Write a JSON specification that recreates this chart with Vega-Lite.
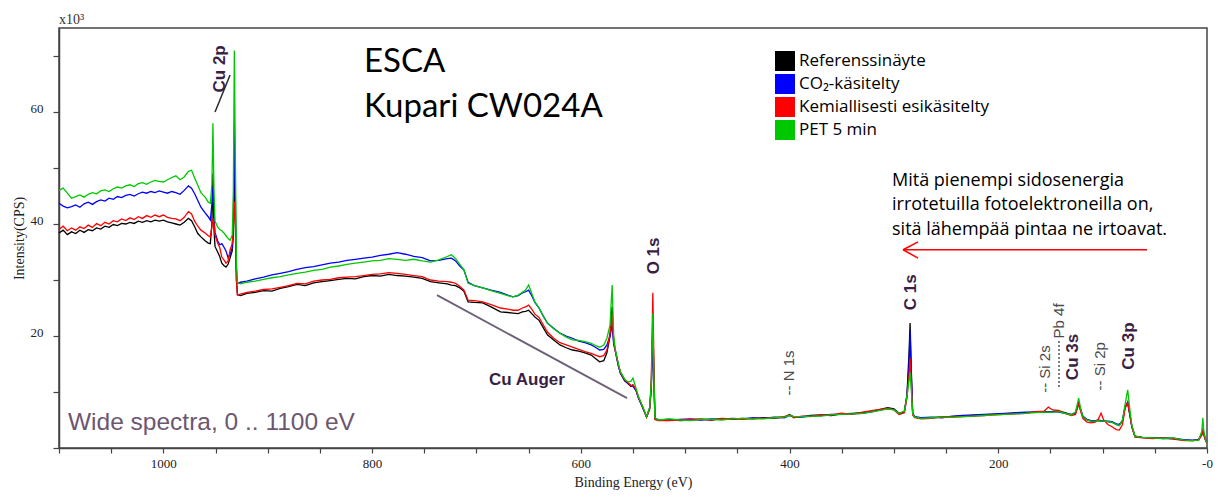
{
  "$schema": "https://vega.github.io/schema/vega-lite/v6.json",
  "width": 1148,
  "height": 420,
  "autosize": {"type": "none"},
  "padding": {"left": 59, "top": 28, "right": 10, "bottom": 49},
  "background": "white",
  "config": {
    "view": {"stroke": "#444", "strokeWidth": 1.5},
    "axis": {"domainColor": "#444", "domainWidth": 1.5, "tickColor": "#444", "tickWidth": 1.2, "labelFont": "Liberation Serif", "labelFontSize": 13, "labelColor": "#222", "titleFont": "Liberation Serif", "titleFontSize": 14, "titleFontWeight": "normal", "titleColor": "#222", "grid": false}
  },
  "layer": [
    {
      "data": {"values": [
        {"E":1100,"k":38.4,"b":43.7,"r":39.0,"g":46.0},
        {"E":1096,"k":38.9,"b":43.2,"r":39.6,"g":46.4},
        {"E":1092,"k":38.1,"b":42.9,"r":38.8,"g":45.5},
        {"E":1088,"k":38.6,"b":43.1,"r":39.3,"g":44.6},
        {"E":1084,"k":38.3,"b":43.4,"r":38.9,"g":44.9},
        {"E":1080,"k":38.9,"b":43.0,"r":39.5,"g":45.2},
        {"E":1076,"k":38.5,"b":43.6,"r":39.2,"g":44.8},
        {"E":1072,"k":39.0,"b":43.9,"r":39.8,"g":45.3},
        {"E":1068,"k":38.8,"b":43.5,"r":39.4,"g":45.6},
        {"E":1064,"k":39.3,"b":44.0,"r":40.1,"g":45.4},
        {"E":1060,"k":39.1,"b":44.3,"r":39.7,"g":45.9},
        {"E":1056,"k":39.6,"b":44.1,"r":40.3,"g":46.1},
        {"E":1052,"k":39.4,"b":44.6,"r":40.0,"g":45.8},
        {"E":1048,"k":39.9,"b":44.4,"r":40.6,"g":46.3},
        {"E":1044,"k":39.7,"b":44.9,"r":40.4,"g":46.6},
        {"E":1040,"k":40.1,"b":44.7,"r":40.9,"g":46.4},
        {"E":1036,"k":40.0,"b":45.1,"r":40.6,"g":46.8},
        {"E":1032,"k":40.3,"b":45.3,"r":41.1,"g":47.0},
        {"E":1028,"k":40.1,"b":45.0,"r":40.8,"g":46.7},
        {"E":1024,"k":40.5,"b":45.4,"r":41.3,"g":47.2},
        {"E":1020,"k":40.3,"b":45.7,"r":41.0,"g":47.4},
        {"E":1016,"k":40.6,"b":45.5,"r":41.5,"g":47.1},
        {"E":1012,"k":40.4,"b":45.8,"r":41.2,"g":47.5},
        {"E":1008,"k":40.7,"b":45.6,"r":41.6,"g":47.8},
        {"E":1004,"k":40.5,"b":45.9,"r":41.3,"g":47.6},
        {"E":1000,"k":40.7,"b":45.7,"r":41.6,"g":47.5},
        {"E":996,"k":40.4,"b":45.5,"r":41.2,"g":47.9},
        {"E":992,"k":40.2,"b":45.8,"r":41.0,"g":48.3},
        {"E":988,"k":40.0,"b":45.6,"r":40.9,"g":48.6},
        {"E":984,"k":39.8,"b":45.3,"r":40.6,"g":47.9},
        {"E":980,"k":40.3,"b":46.0,"r":41.2,"g":48.4},
        {"E":976,"k":41.0,"b":46.8,"r":42.2,"g":49.4},
        {"E":973,"k":40.6,"b":46.4,"r":41.8,"g":49.6},
        {"E":970,"k":39.5,"b":45.4,"r":40.5,"g":48.2},
        {"E":967,"k":38.3,"b":44.2,"r":39.6,"g":46.9},
        {"E":964,"k":37.7,"b":43.0,"r":38.9,"g":45.6},
        {"E":960,"k":37.0,"b":42.0,"r":38.4,"g":44.8},
        {"E":957,"k":36.6,"b":41.3,"r":37.9,"g":43.9},
        {"E":955,"k":36.5,"b":40.7,"r":37.7,"g":43.7},
        {"E":953.5,"k":40.0,"b":43.5,"r":39.5,"g":47.0},
        {"E":952.5,"k":49.0,"b":46.6,"r":41.0,"g":58.0},
        {"E":951.5,"k":39.0,"b":41.0,"r":40.2,"g":46.0},
        {"E":950.5,"k":36.0,"b":38.5,"r":38.0,"g":40.5},
        {"E":948,"k":35.0,"b":37.0,"r":36.6,"g":39.5},
        {"E":946,"k":34.2,"b":36.3,"r":35.8,"g":39.0},
        {"E":944,"k":33.0,"b":36.5,"r":34.1,"g":38.8},
        {"E":942,"k":32.6,"b":35.9,"r":33.6,"g":38.4},
        {"E":940,"k":32.3,"b":35.2,"r":33.0,"g":37.9},
        {"E":938,"k":32.8,"b":34.0,"r":33.4,"g":37.4},
        {"E":936,"k":34.0,"b":34.6,"r":35.4,"g":37.1},
        {"E":934,"k":35.2,"b":35.7,"r":36.5,"g":38.0},
        {"E":933,"k":38.0,"b":40.0,"r":39.0,"g":45.0},
        {"E":932,"k":50.0,"b":58.0,"r":44.0,"g":71.0},
        {"E":931,"k":40.0,"b":45.0,"r":40.0,"g":52.0},
        {"E":930,"k":30.0,"b":32.0,"r":30.0,"g":33.0},
        {"E":929,"k":27.4,"b":29.4,"r":27.3,"g":29.5},
        {"E":926,"k":27.2,"b":29.6,"r":27.5,"g":29.3},
        {"E":920,"k":27.6,"b":29.8,"r":27.8,"g":29.6},
        {"E":912,"k":27.8,"b":30.2,"r":28.0,"g":29.8},
        {"E":904,"k":28.1,"b":30.5,"r":28.3,"g":30.1},
        {"E":896,"k":28.0,"b":30.9,"r":28.4,"g":30.4},
        {"E":888,"k":28.5,"b":31.2,"r":28.7,"g":30.6},
        {"E":880,"k":28.8,"b":31.5,"r":29.0,"g":30.9},
        {"E":872,"k":29.2,"b":31.9,"r":29.4,"g":31.2},
        {"E":864,"k":29.0,"b":32.2,"r":29.3,"g":31.4},
        {"E":856,"k":29.5,"b":32.4,"r":29.8,"g":31.7},
        {"E":848,"k":29.7,"b":32.7,"r":30.0,"g":31.9},
        {"E":840,"k":29.9,"b":33.0,"r":30.1,"g":32.3},
        {"E":832,"k":30.1,"b":33.2,"r":30.4,"g":32.5},
        {"E":824,"k":30.3,"b":33.5,"r":30.5,"g":32.8},
        {"E":816,"k":30.2,"b":33.7,"r":30.6,"g":33.0},
        {"E":808,"k":30.6,"b":33.9,"r":30.8,"g":33.2},
        {"E":800,"k":30.8,"b":34.1,"r":31.0,"g":33.4},
        {"E":792,"k":30.7,"b":34.4,"r":31.1,"g":33.5},
        {"E":784,"k":31.0,"b":34.6,"r":31.3,"g":33.8},
        {"E":776,"k":30.8,"b":34.9,"r":31.2,"g":33.7},
        {"E":768,"k":30.7,"b":34.6,"r":31.0,"g":33.5},
        {"E":760,"k":30.5,"b":34.2,"r":30.8,"g":33.7},
        {"E":752,"k":30.3,"b":34.0,"r":30.6,"g":33.4},
        {"E":744,"k":29.7,"b":33.4,"r":30.0,"g":33.2},
        {"E":736,"k":29.5,"b":33.5,"r":29.8,"g":33.6},
        {"E":728,"k":29.3,"b":33.8,"r":29.7,"g":34.2},
        {"E":724,"k":29.1,"b":33.9,"r":29.6,"g":34.5},
        {"E":720,"k":29.0,"b":33.4,"r":29.4,"g":33.8},
        {"E":716,"k":28.6,"b":32.5,"r":28.9,"g":32.8},
        {"E":712,"k":28.0,"b":31.8,"r":28.2,"g":31.8},
        {"E":708,"k":26.1,"b":29.6,"r":26.4,"g":29.4},
        {"E":702,"k":26.0,"b":29.0,"r":26.3,"g":29.0},
        {"E":694,"k":25.9,"b":28.6,"r":26.1,"g":28.6},
        {"E":686,"k":25.2,"b":28.2,"r":25.6,"g":28.1},
        {"E":677,"k":24.3,"b":27.8,"r":25.0,"g":27.6},
        {"E":670,"k":24.2,"b":27.3,"r":24.8,"g":27.2},
        {"E":665,"k":24.1,"b":27.0,"r":24.6,"g":27.0},
        {"E":660,"k":24.0,"b":27.2,"r":24.6,"g":27.3},
        {"E":656,"k":24.3,"b":27.7,"r":25.0,"g":27.8},
        {"E":653,"k":24.4,"b":27.9,"r":25.2,"g":28.2},
        {"E":650,"k":24.6,"b":28.2,"r":25.5,"g":29.1},
        {"E":647,"k":24.0,"b":27.2,"r":24.8,"g":27.6},
        {"E":644,"k":23.4,"b":26.0,"r":23.9,"g":26.1},
        {"E":640,"k":22.8,"b":25.0,"r":23.3,"g":25.0},
        {"E":636,"k":21.5,"b":23.6,"r":22.0,"g":23.5},
        {"E":632,"k":20.2,"b":22.3,"r":20.7,"g":22.3},
        {"E":626,"k":19.3,"b":21.4,"r":19.6,"g":21.3},
        {"E":620,"k":18.4,"b":20.5,"r":18.8,"g":20.5},
        {"E":614,"k":17.9,"b":20.0,"r":18.4,"g":19.8},
        {"E":608,"k":17.5,"b":19.6,"r":18.0,"g":19.3},
        {"E":602,"k":17.3,"b":19.1,"r":17.6,"g":19.2},
        {"E":596,"k":17.0,"b":18.8,"r":17.2,"g":19.0},
        {"E":590,"k":16.6,"b":18.4,"r":16.9,"g":18.7},
        {"E":586,"k":16.0,"b":18.0,"r":16.6,"g":18.3},
        {"E":582,"k":15.4,"b":17.5,"r":16.3,"g":18.0},
        {"E":578,"k":15.6,"b":17.6,"r":16.5,"g":18.4},
        {"E":575,"k":17.0,"b":18.4,"r":17.5,"g":19.6},
        {"E":572,"k":20.0,"b":20.0,"r":20.5,"g":22.0},
        {"E":570,"k":25.2,"b":22.0,"r":24.0,"g":29.1},
        {"E":568.5,"k":19.0,"b":18.5,"r":19.0,"g":20.0},
        {"E":567,"k":17.5,"b":17.3,"r":17.4,"g":17.6},
        {"E":564,"k":14.8,"b":14.6,"r":14.9,"g":15.0},
        {"E":562,"k":13.4,"b":13.3,"r":13.5,"g":13.6},
        {"E":558,"k":12.0,"b":12.1,"r":12.2,"g":12.3},
        {"E":555,"k":11.5,"b":11.6,"r":11.7,"g":11.8},
        {"E":552,"k":11.0,"b":11.2,"r":11.1,"g":11.9},
        {"E":550,"k":11.2,"b":11.0,"r":11.3,"g":12.5},
        {"E":547,"k":10.3,"b":10.2,"r":10.4,"g":10.6},
        {"E":545,"k":9.1,"b":9.0,"r":9.2,"g":9.3},
        {"E":541,"k":7.4,"b":7.3,"r":7.5,"g":7.5},
        {"E":537,"k":5.5,"b":5.6,"r":5.5,"g":5.6},
        {"E":534,"k":7.0,"b":7.2,"r":7.0,"g":7.3},
        {"E":532.5,"k":11.0,"b":10.5,"r":12.0,"g":11.5},
        {"E":531,"k":22.0,"b":19.0,"r":27.7,"g":24.0},
        {"E":530,"k":14.0,"b":12.0,"r":16.0,"g":13.0},
        {"E":529,"k":5.2,"b":5.3,"r":5.1,"g":5.4},
        {"E":526,"k":5.0,"b":5.1,"r":4.9,"g":5.0},
        {"E":515,"k":5.1,"b":5.0,"r":4.9,"g":5.2},
        {"E":505,"k":4.9,"b":5.1,"r":5.0,"g":5.0},
        {"E":495,"k":5.0,"b":5.2,"r":5.1,"g":4.9},
        {"E":485,"k":5.1,"b":5.0,"r":5.2,"g":5.1},
        {"E":475,"k":5.0,"b":5.2,"r":5.0,"g":5.1},
        {"E":465,"k":5.2,"b":5.1,"r":5.3,"g":5.0},
        {"E":455,"k":5.1,"b":5.3,"r":5.2,"g":5.2},
        {"E":445,"k":5.3,"b":5.2,"r":5.1,"g":5.3},
        {"E":435,"k":5.2,"b":5.4,"r":5.3,"g":5.2},
        {"E":425,"k":5.4,"b":5.3,"r":5.3,"g":5.2},
        {"E":415,"k":5.3,"b":5.5,"r":5.4,"g":5.4},
        {"E":405,"k":5.5,"b":5.4,"r":5.6,"g":5.5},
        {"E":400,"k":6.0,"b":5.8,"r":5.9,"g":5.8},
        {"E":396,"k":5.5,"b":5.6,"r":5.4,"g":5.6},
        {"E":388,"k":5.6,"b":5.5,"r":5.7,"g":5.6},
        {"E":380,"k":5.8,"b":5.7,"r":5.6,"g":5.7},
        {"E":370,"k":5.9,"b":5.8,"r":5.9,"g":5.7},
        {"E":360,"k":5.8,"b":6.0,"r":5.9,"g":5.9},
        {"E":350,"k":6.1,"b":6.0,"r":6.2,"g":6.0},
        {"E":340,"k":6.2,"b":6.1,"r":6.0,"g":6.1},
        {"E":330,"k":6.3,"b":6.2,"r":6.4,"g":6.2},
        {"E":320,"k":6.6,"b":6.5,"r":6.7,"g":6.5},
        {"E":313,"k":6.9,"b":6.8,"r":6.9,"g":6.7},
        {"E":306,"k":7.2,"b":7.0,"r":7.1,"g":7.0},
        {"E":300,"k":7.0,"b":6.9,"r":6.8,"g":6.8},
        {"E":295,"k":6.2,"b":6.1,"r":6.0,"g":6.2},
        {"E":290,"k":6.5,"b":6.4,"r":6.3,"g":6.6},
        {"E":287.5,"k":9.5,"b":9.3,"r":9.0,"g":9.3},
        {"E":285.5,"k":17.0,"b":15.0,"r":13.0,"g":12.0},
        {"E":284.5,"k":22.3,"b":21.0,"r":16.0,"g":13.5},
        {"E":283.5,"k":15.0,"b":14.0,"r":12.0,"g":11.0},
        {"E":282,"k":6.0,"b":6.2,"r":5.9,"g":6.1},
        {"E":280,"k":5.5,"b":5.6,"r":5.4,"g":5.5},
        {"E":274,"k":5.3,"b":5.4,"r":5.2,"g":5.3},
        {"E":264,"k":5.4,"b":5.5,"r":5.3,"g":5.4},
        {"E":254,"k":5.5,"b":5.4,"r":5.6,"g":5.5},
        {"E":244,"k":5.6,"b":5.7,"r":5.5,"g":5.5},
        {"E":234,"k":5.7,"b":5.8,"r":5.6,"g":5.6},
        {"E":224,"k":5.8,"b":5.9,"r":5.7,"g":5.7},
        {"E":214,"k":5.9,"b":6.0,"r":5.8,"g":5.8},
        {"E":204,"k":6.0,"b":6.1,"r":5.9,"g":5.9},
        {"E":194,"k":6.1,"b":6.2,"r":6.0,"g":6.0},
        {"E":184,"k":6.2,"b":6.3,"r":6.1,"g":6.1},
        {"E":174,"k":6.3,"b":6.4,"r":6.2,"g":6.2},
        {"E":164,"k":6.4,"b":6.4,"r":6.5,"g":6.3},
        {"E":156,"k":6.4,"b":6.5,"r":6.6,"g":6.4},
        {"E":152,"k":6.5,"b":6.4,"r":7.3,"g":6.4},
        {"E":148,"k":6.5,"b":6.5,"r":6.8,"g":6.4},
        {"E":142,"k":6.6,"b":6.4,"r":6.7,"g":6.5},
        {"E":136,"k":6.3,"b":6.2,"r":6.2,"g":6.2},
        {"E":130,"k":5.9,"b":6.0,"r":5.8,"g":5.9},
        {"E":126,"k":6.2,"b":6.3,"r":6.0,"g":6.4},
        {"E":123,"k":8.0,"b":8.0,"r":7.8,"g":8.9},
        {"E":121,"k":6.8,"b":6.9,"r":6.5,"g":7.0},
        {"E":119,"k":5.6,"b":5.7,"r":5.3,"g":5.6},
        {"E":115,"k":5.0,"b":5.1,"r":4.6,"g":5.0},
        {"E":111,"k":4.8,"b":4.9,"r":4.5,"g":4.8},
        {"E":107,"k":4.8,"b":4.9,"r":4.6,"g":4.8},
        {"E":104,"k":4.9,"b":5.0,"r":5.2,"g":4.9},
        {"E":101.5,"k":4.8,"b":4.9,"r":6.2,"g":4.8},
        {"E":99,"k":4.8,"b":4.8,"r":5.0,"g":4.8},
        {"E":95,"k":4.7,"b":4.8,"r":4.2,"g":4.7},
        {"E":91,"k":4.6,"b":4.7,"r":3.8,"g":4.6},
        {"E":87,"k":4.2,"b":4.3,"r":3.3,"g":4.2},
        {"E":84,"k":4.1,"b":4.2,"r":3.2,"g":4.0},
        {"E":81,"k":4.8,"b":4.9,"r":4.2,"g":5.0},
        {"E":78.5,"k":7.3,"b":7.3,"r":7.0,"g":7.8},
        {"E":76,"k":8.0,"b":8.2,"r":8.2,"g":10.4},
        {"E":74,"k":6.0,"b":6.2,"r":6.0,"g":7.0},
        {"E":72,"k":3.8,"b":3.9,"r":3.7,"g":4.0},
        {"E":69,"k":2.1,"b":2.0,"r":2.0,"g":2.1},
        {"E":62,"k":1.9,"b":1.9,"r":1.8,"g":1.9},
        {"E":52,"k":1.8,"b":1.8,"r":1.7,"g":1.8},
        {"E":42,"k":1.8,"b":1.7,"r":1.8,"g":1.7},
        {"E":32,"k":1.7,"b":1.7,"r":1.6,"g":1.8},
        {"E":22,"k":1.4,"b":1.5,"r":1.3,"g":1.4},
        {"E":14,"k":1.3,"b":1.4,"r":1.3,"g":1.3},
        {"E":8,"k":1.5,"b":1.5,"r":1.4,"g":1.4},
        {"E":5,"k":2.5,"b":2.4,"r":2.3,"g":3.0},
        {"E":4,"k":3.2,"b":3.0,"r":3.0,"g":5.4},
        {"E":3,"k":2.5,"b":2.4,"r":2.3,"g":3.0},
        {"E":1,"k":1.2,"b":1.2,"r":1.1,"g":1.2},
        {"E":0,"k":1.1,"b":1.1,"r":1.0,"g":1.1}
      ]},
      "transform": [{"fold": ["k", "b", "r", "g"], "as": ["s", "I"]}],
      "mark": {"type": "line", "strokeWidth": 1.3},
      "encoding": {
        "x": {"field": "E", "type": "quantitative", "scale": {"domain": [0, 1100], "reverse": true, "nice": false},
              "axis": {"title": "Binding Energy (eV)", "values": [0,50,100,150,200,250,300,350,400,450,500,550,600,650,700,750,800,850,900,950,1000,1050,1100], "labelExpr": "datum.value == 0 ? '-0' : (datum.value % 200 == 0 ? datum.label : '')", "labelFlush": false, "labelOverlap": false, "tickSize": 5, "labelPadding": 4, "titlePadding": 5, "format": "d"}},
        "y": {"field": "I", "type": "quantitative", "scale": {"domain": [0, 75], "nice": false},
              "axis": {"title": "Intensity(CPS)", "values": [0,10,20,30,40,50,60,70], "labelExpr": "datum.value > 0 && datum.value % 20 == 0 ? datum.label : ''", "labelOverlap": false, "tickSize": 6, "labelPadding": 10, "labelBaseline": "alphabetic", "titlePadding": 4}},
        "color": {"field": "s", "type": "nominal",
                  "scale": {"domain": ["k", "b", "r", "g"], "range": ["#000000", "#0000ff", "#ff0000", "#00c800"]},
                  "legend": {"orient": "none", "legendX": 716, "legendY": 23, "title": null, "padding": 0,
                             "symbolType": "square", "symbolSize": 400, "symbolStrokeWidth": 0,
                             "labelFont": "Open Sans", "labelFontSize": 17, "labelColor": "#000", "labelOffset": 4, "rowPadding": 3, "labelLimit": 0,
                             "labelExpr": "datum.label == 'k' ? 'Referenssinäyte' : datum.label == 'b' ? 'CO₂-käsitelty' : datum.label == 'r' ? 'Kemiallisesti esikäsitelty' : 'PET 5 min'",
                             "encode": {"symbols": {"update": {"fill": {"scale": "color", "field": "value"}, "fillOpacity": {"value": 1}}}}}}
      }
    },
    {
      "data": {"values": [
        {"E": 945.7, "I": 67.7, "t": "Cu 2p"},
        {"E": 529.9, "I": 34.3, "t": "O 1s"},
        {"E": 283.6, "I": 27.8, "t": "C 1s"},
        {"E": 128.4, "I": 16.25, "t": "Cu 3s"},
        {"E": 74.7, "I": 18.2, "t": "Cu 3p"}
      ]},
      "mark": {"type": "text", "angle": 270, "align": "center", "baseline": "middle", "font": "Liberation Sans", "fontWeight": "bold", "fontSize": 17, "color": "#3a1f45"},
      "encoding": {"x": {"field": "E", "type": "quantitative"}, "y": {"field": "I", "type": "quantitative"}, "text": {"field": "t"}}
    },
    {
      "data": {"values": [
        {"E": 400.5, "I": 13.4, "t": "-- N 1s"},
        {"E": 155.2, "I": 14.1, "t": "-- Si 2s"},
        {"E": 141.8, "I": 22.7, "t": "Pb 4f"},
        {"E": 102.5, "I": 14.6, "t": "-- Si 2p"}
      ]},
      "mark": {"type": "text", "angle": 270, "align": "center", "baseline": "middle", "font": "Liberation Sans", "fontSize": 15, "color": "#4a4a4a"},
      "encoding": {"x": {"field": "E", "type": "quantitative"}, "y": {"field": "I", "type": "quantitative"}, "text": {"field": "t"}}
    },
    {
      "data": {"values": [{}]},
      "mark": {"type": "rule", "color": "#555555", "strokeWidth": 1.5, "strokeDash": [2, 2]},
      "encoding": {"x": {"datum": 141.8}, "y": {"datum": 10.9}, "y2": {"datum": 19.3}}
    },
    {
      "data": {"values": [{}]},
      "mark": {"type": "rule", "color": "#2a2a2a", "strokeWidth": 1.5},
      "encoding": {"x": {"datum": 950.5}, "y": {"datum": 60}, "x2": {"datum": 936.1}, "y2": {"datum": 66.6}}
    },
    {
      "data": {"values": [{}]},
      "mark": {"type": "rule", "color": "#6e5f78", "strokeWidth": 1.8},
      "encoding": {"x": {"datum": 737.8}, "y": {"datum": 27.3}, "x2": {"datum": 555.7}, "y2": {"datum": 8.9}}
    },
    {
      "data": {"values": [{}]},
      "mark": {"type": "text", "align": "center", "baseline": "middle", "font": "Liberation Sans", "fontWeight": "bold", "fontSize": 17, "color": "#3a1f45"},
      "encoding": {"x": {"datum": 651.6}, "y": {"datum": 12.1}, "text": {"value": "Cu Auger"}}
    },
    {
      "data": {"values": [{}]},
      "mark": {"type": "text", "align": "left", "baseline": "alphabetic", "font": "Liberation Sans", "fontSize": 24.5, "color": "#6d5670"},
      "encoding": {"x": {"datum": 1091.4}, "y": {"datum": 3.2}, "text": {"value": "Wide spectra, 0 .. 1100 eV"}}
    },
    {
      "data": {"values": [{}]},
      "mark": {"type": "text", "align": "left", "baseline": "alphabetic", "font": "Lato", "fontSize": 33, "color": "#000"},
      "encoding": {"x": {"datum": 807.7}, "y": {"datum": 67.1}, "text": {"value": "ESCA"}}
    },
    {
      "data": {"values": [{}]},
      "mark": {"type": "text", "align": "left", "baseline": "alphabetic", "font": "Lato", "fontSize": 33, "color": "#000"},
      "encoding": {"x": {"datum": 807.7}, "y": {"datum": 59.1}, "text": {"value": "Kupari CW024A"}}
    },
    {
      "data": {"values": [{}]},
      "mark": {"type": "text", "align": "left", "baseline": "middle", "font": "Open Sans", "fontSize": 18, "lineHeight": 24.5, "color": "#000"},
      "encoding": {"x": {"datum": 301.8}, "y": {"datum": 47.7}, "text": {"value": ["Mitä pienempi sidosenergia", "irrotetuilla fotoelektroneilla on,", "sitä lähempää pintaa ne irtoavat."]}}
    },
    {
      "data": {"values": [{}]},
      "mark": {"type": "rule", "color": "#ff0000", "strokeWidth": 1.5},
      "encoding": {"x": {"datum": 291.2}, "y": {"datum": 35.4}, "x2": {"datum": 57.5}}
    },
    {
      "data": {"values": [{}]},
      "mark": {"type": "rule", "color": "#ff0000", "strokeWidth": 1.5},
      "encoding": {"x": {"datum": 291.2}, "y": {"datum": 35.4}, "x2": {"datum": 276.9}, "y2": {"datum": 36.8}}
    },
    {
      "data": {"values": [{}]},
      "mark": {"type": "rule", "color": "#ff0000", "strokeWidth": 1.5},
      "encoding": {"x": {"datum": 291.2}, "y": {"datum": 35.4}, "x2": {"datum": 276.9}, "y2": {"datum": 33.9}}
    },
    {
      "data": {"values": [{}]},
      "mark": {"type": "text", "align": "left", "baseline": "bottom", "dy": -1, "font": "Liberation Serif", "fontSize": 14, "color": "#333"},
      "encoding": {"x": {"datum": 1100}, "y": {"datum": 75}, "text": {"value": "x10³"}}
    }
  ]
}
